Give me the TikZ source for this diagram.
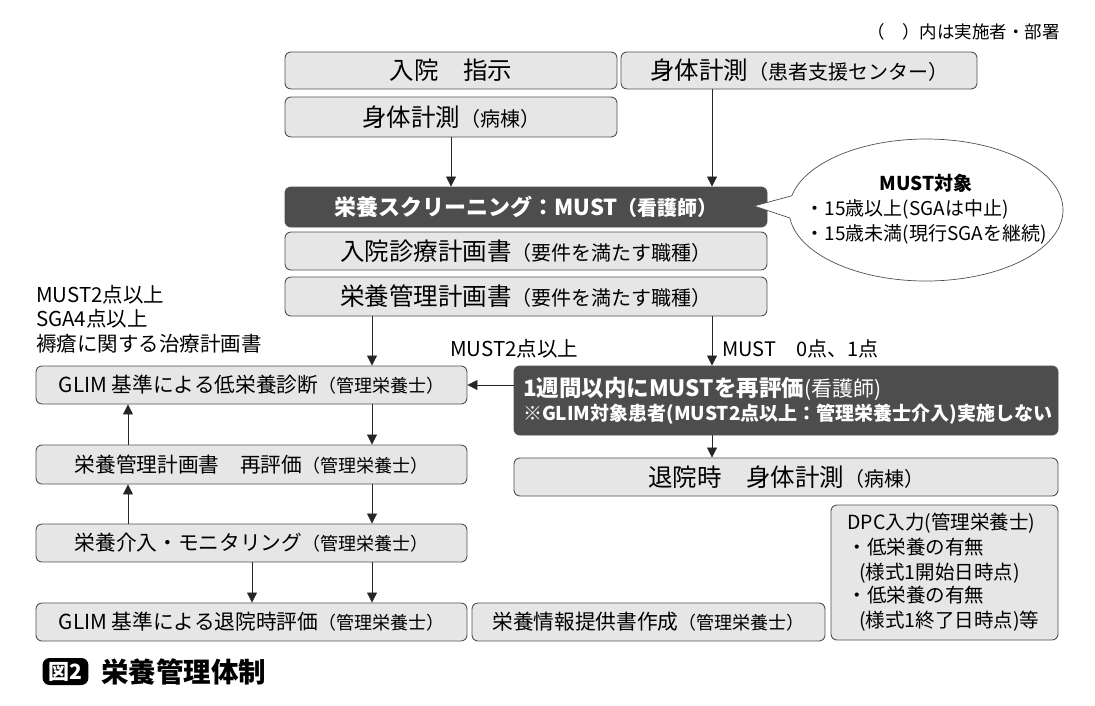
\documentclass[tikz,border=0pt]{standalone}
\usepackage{fontspec}
\setmainfont{Noto Sans CJK JP}
\usetikzlibrary{arrows.meta,shapes.geometric,shapes.callouts}
\definecolor{boxfill}{HTML}{E6E6E7}
\definecolor{boxline}{HTML}{505050}
\definecolor{darkfill}{HTML}{4D4D4D}
\newcommand{\pbig}[1]{{\fontsize{20}{22}\selectfont #1}}
\newcommand{\psmall}[1]{{\fontsize{18}{20}\selectfont #1}}
\tikzset{
  box/.style={draw=boxline, fill=boxfill, rounded corners=6pt, line width=0.9pt,
    inner sep=0pt, font=\fontsize{20.7}{24}\selectfont},
  bigbox/.style={box, font=\fontsize{24.5}{26}\selectfont},
  darkbox/.style={bigbox, fill=darkfill, text=white},
  arr/.style={-{Triangle[length=10pt,width=10pt]}, line width=0.8pt, draw=black!85},
  note/.style={inner sep=0pt, font=\fontsize{20.5}{24.5}\selectfont}
}

\begin{document}
\begin{tikzpicture}[x=1pt,y=-1pt]
			%%%%% START %%%%%
			\useasboundingbox (0,0) rectangle (1095,705);
			
			\node[note, anchor=east, font=\fontsize{17.5}{20}\selectfont] (legend) at (1060,32) {（　）内は実施者・部署};
			
			% column guides
			\coordinate (c1) at (128,0);
			\coordinate (c2) at (252,0);
			\coordinate (c3) at (372,0);
			\coordinate (c5) at (712,0);
			\coordinate (tip) at (754,206);
			
			\node[bigbox, minimum width=332pt, minimum height=37pt] (admit) at (451,70.5) {入院　指示};
			\node[bigbox, minimum width=356pt, minimum height=37pt] (support) at (799,70.5) {身体計測\pbig{（患者支援センター）}};
			\node[bigbox, minimum width=332pt, minimum height=40pt] (ward) at (451,117) {身体計測\pbig{（病棟）}};
			
			\node[darkbox, minimum width=482pt, minimum height=40pt, font=\fontsize{22}{24}\selectfont\bfseries] (screen) at (526,207) {栄養スクリーニング：MUST\pbig{（看護師）}};
			\node[bigbox, minimum width=482pt, minimum height=38pt] (hplan) at (526,251) {入院診療計画書\pbig{（要件を満たす職種）}};
			\node[bigbox, minimum width=482pt, minimum height=39pt] (mplan) at (526,296.5) {栄養管理計画書\pbig{（要件を満たす職種）}};
			
			\node[ellipse callout, draw=boxline, fill=white, line width=0.7pt, minimum width=274pt, minimum height=142pt,
			  callout absolute pointer=(tip), callout pointer arc=18, inner sep=0pt] (target) at (926,210) {};
			\node[note, align=left, font=\fontsize{19}{25}\selectfont] (targettext) at (target.center) {%
			  \begin{tabular}{@{}l@{}}\multicolumn{1}{c}{\bfseries MUST対象}\\[0pt]
			  ・15歳以上(SGAは中止)\\[0pt]
			  ・15歳未満(現行SGAを継続)\end{tabular}};
			
			\node[note, anchor=north west, align=left] (criteria) at (36,285) {MUST2点以上\\SGA4点以上\\褥瘡に関する治療計画書};
			\node[note, anchor=west] (hi) at (450,349) {MUST2点以上};
			\node[note, anchor=west, font=\fontsize{20}{22}\selectfont] (lo) at (722,349) {MUST　0点、1点};
			
			\node[box, minimum width=431pt, minimum height=38pt] (glim) at (251.5,385) {GLIM 基準による低栄養診断\psmall{（管理栄養士）}};
			\node[box, fill=darkfill, text=white, minimum width=544pt, minimum height=69pt, text width=526pt, align=left] (reeval) at (786,400.5) {%
			  {\fontsize{22.5}{28}\selectfont\bfseries 1週間以内にMUSTを再評価}{\fontsize{21}{28}\selectfont (看護師)}\\
			  {\fontsize{19}{25}\selectfont\bfseries ※GLIM対象患者(MUST2点以上：管理栄養士介入)実施しない}};
			\node[bigbox, minimum width=544pt, minimum height=38pt] (discharge) at (786,477) {退院時　身体計測\pbig{（病棟）}};
			
			\node[box, minimum width=431pt, minimum height=39pt] (review) at (251.5,464.5) {栄養管理計画書　再評価\psmall{（管理栄養士）}};
			\node[box, minimum width=431pt, minimum height=38pt] (monitor) at (251.5,543) {栄養介入・モニタリング\psmall{（管理栄養士）}};
			\node[box, minimum width=431pt, minimum height=38pt] (final) at (251.5,622) {GLIM 基準による退院時評価\psmall{（管理栄養士）}};
			\node[box, minimum width=353pt, minimum height=38pt] (info) at (648.5,622) {栄養情報提供書作成\psmall{（管理栄養士）}};
			\node[box, minimum width=227pt, minimum height=135pt, text width=194pt, align=left, font=\fontsize{19.5}{25}\selectfont] (dpc) at (944.5,572.5) {%
			  DPC入力(管理栄養士)\\・低栄養の有無\\\hspace*{0.6em}(様式1開始日時点)\\[-2pt]・低栄養の有無\\\hspace*{0.6em}(様式1終了日時点)等};
			
			% connectors
			\draw[arr] (ward.south) -- (ward.south |- screen.north);
			\draw[arr] (support.south -| c5) -- (screen.north -| c5);
			\draw[arr] (mplan.south -| c3) -- (glim.north -| c3);
			\draw[arr] (mplan.south -| c5) -- (reeval.north -| c5);
			\draw[arr] (reeval.west |- glim.east) -- (glim.east);
			\draw[arr] (reeval.south -| c5) -- (discharge.north -| c5);
			\draw[arr] (glim.south -| c3) -- (review.north -| c3);
			\draw[arr] (review.north -| c1) -- (glim.south -| c1);
			\draw[arr] (review.south -| c3) -- (monitor.north -| c3);
			\draw[arr] (monitor.north -| c1) -- (review.south -| c1);
			\draw[arr] (monitor.south -| c2) -- (final.north -| c2);
			\draw[arr] (monitor.south -| c3) -- (final.north -| c3);
			
			% caption
			\node[fill=black, rounded corners=7pt, text=white, inner xsep=6pt, minimum height=27pt, font=\fontsize{21}{22}\selectfont\bfseries] (fig) at (65.5,671.5) {図2};
			\node[note, anchor=west, font=\fontsize{27.5}{28}\selectfont\bfseries] (caption) at (101,671.5) {栄養管理体制};
			
			%%%%% END %%%%%
\end{tikzpicture}
\end{document}
